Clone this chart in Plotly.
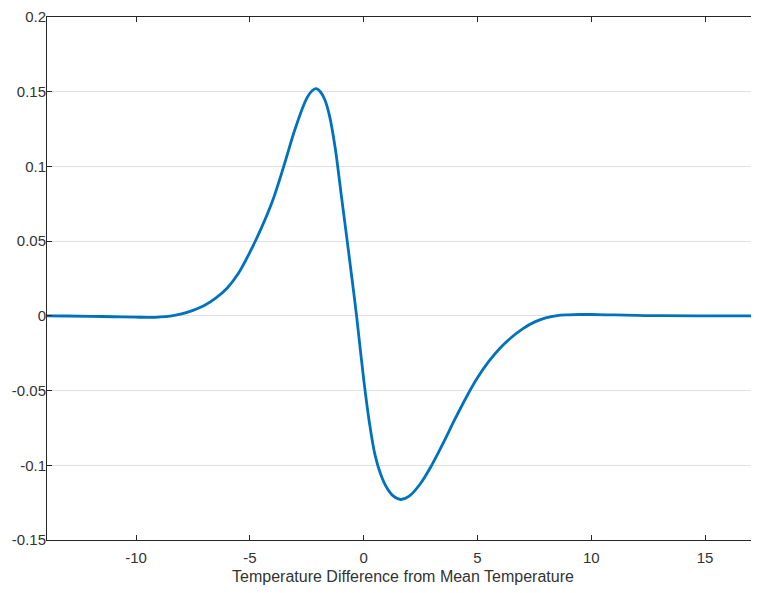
import plotly.graph_objects as go

# Values
temp_diff = [-14, -13, -12, -11, -10, -9.4, -9, -8.5, -8, -7.5, -7, -6.5, -6, -5.5, -5, -4.5,
             -4, -3.5, -3, -2.5, -2.25, -2.08, -1.9, -1.7, -1.5, -1.25, -1.0, -0.75, -0.5,
             -0.31, 0, 0.25, 0.5, 0.75, 1.0, 1.3, 1.63, 2.0, 2.5, 3.0, 3.5, 4.0, 4.5, 5.0,
             5.5, 6.0, 6.5, 7.0, 7.5, 8.0, 8.5, 9.0, 9.5, 10, 11, 12, 13, 15, 17.5]
response = [0.0, -0.0001, -0.0003, -0.0006, -0.0009, -0.001, -0.0008, -0.0002, 0.0013,
            0.0037, 0.0069, 0.0118, 0.0185, 0.0285, 0.0425, 0.0585, 0.077, 0.1005, 0.1255,
            0.1455, 0.1508, 0.152, 0.150, 0.1445, 0.134, 0.1125, 0.083, 0.0535, 0.0235, 0.0,
            -0.042, -0.071, -0.093, -0.106, -0.1145, -0.1205, -0.1229, -0.1207, -0.1122,
            -0.0997, -0.085, -0.0695, -0.0548, -0.0415, -0.0305, -0.0215, -0.0143, -0.0085,
            -0.0042, -0.0014, 0.0002, 0.0007, 0.0009, 0.0009, 0.0006, 0.0003, 0.0001, 0.0, 0.0]

x_ticks = [-10, -5, 0, 5, 10, 15]
x_labels = ["-10", "-5", "0", "5", "10", "15"]
y_ticks = [-0.15, -0.1, -0.05, 0, 0.05, 0.1, 0.15, 0.2]
y_labels = ["-0.15", "-0.1", "-0.05", "0", "0.05", "0.1", "0.15", "0.2"]

axis_col = "#262626"
label_col = "#333333"
font_fam = "Liberation Sans, Arial, sans-serif"

fig = go.Figure()
fig.add_trace(go.Scatter(
    x=temp_diff, y=response, mode="lines",
    line=dict(color="#0072BD", width=2.8, shape="spline", smoothing=1.0),
    showlegend=False, hoverinfo="skip"))

fig.update_layout(
    width=751, height=577,
    margin=dict(l=39, r=0, t=4, b=43),
    paper_bgcolor="white", plot_bgcolor="white",
    font=dict(family=font_fam, size=15, color=label_col),
)
fig.update_xaxes(
    range=[-13.91, 17.37], tickvals=x_ticks, ticktext=x_labels,
    showgrid=False, zeroline=False,
    showline=True, linecolor=axis_col, linewidth=1, mirror="ticks",
    ticks="inside", ticklen=5, tickcolor=axis_col,
    tickfont=dict(size=15, color=label_col), ticklabelstandoff=4,
    title=dict(text="Temperature Difference from Mean Temperature",
               font=dict(size=16, color=label_col), standoff=8),
)
fig.update_yaxes(
    range=[-0.15, 0.2], tickvals=y_ticks, ticktext=y_labels,
    showgrid=True, gridcolor="#e1e1e1", gridwidth=1, zeroline=False,
    showline=True, linecolor=axis_col, linewidth=1, mirror=False,
    ticks="inside", ticklen=5, tickcolor=axis_col,
    tickfont=dict(size=15, color=label_col), ticklabelstandoff=-3,
    ticklabeloverflow="allow",
)

fig.write_html("out.html")
